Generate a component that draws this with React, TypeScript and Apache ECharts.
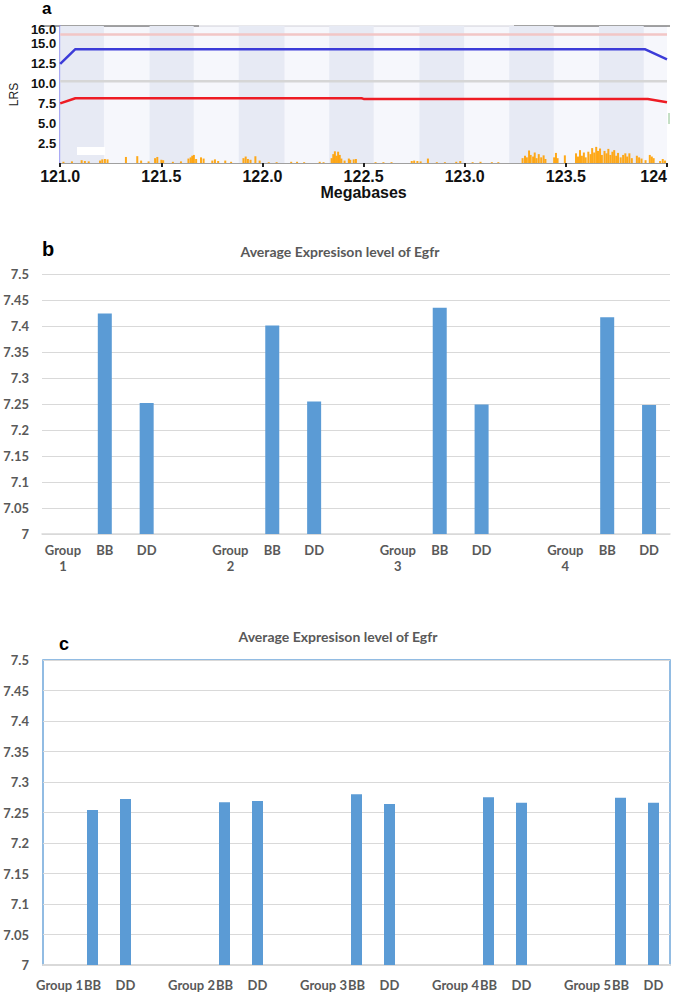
import React, { useEffect, useRef } from 'react';
import * as echarts from 'echarts';

// ---------- Panel a data ----------
const blueLine: [number, number][] = [[121.0, 12.3], [121.075, 14.12], [123.89, 14.12], [124.0, 12.87]];
const redLine: [number, number][] = [[121.0, 7.4], [121.075, 8.03], [122.49, 8.03], [122.5, 7.95], [123.905, 7.95], [124.0, 7.55]];
const pinkThreshold = 15.95;
const grayThreshold = 10.15;
const lrsTicks = [2.5, 5, 7.5, 10, 12.5, 15];
const lrsTopTick = [16];
const bandRanges: [number, number][] = [
  [121.0, 121.216], [121.442, 121.66], [121.883, 122.109], [122.33, 122.55],
  [122.776, 122.997], [123.22, 123.44], [123.664, 123.885],
];
const spikeX = [
  121.016, 121.058, 121.106, 121.122, 121.141, 121.197, 121.208, 121.221, 121.234, 121.325,
  121.381, 121.4, 121.437, 121.469, 121.48, 121.5, 121.509, 121.557, 121.597, 121.634,
  121.645, 121.653, 121.661, 121.672, 121.696, 121.709, 121.752, 121.765, 121.781, 121.816,
  121.845, 121.906, 121.917, 121.928, 121.941, 121.965, 121.986,
  122.031, 122.07, 122.142, 122.171, 122.206, 122.283, 122.302, 122.342, 122.35, 122.358,
  122.366, 122.374, 122.382, 122.39, 122.406, 122.427, 122.434, 122.451, 122.462, 122.559,
  122.598, 122.638, 122.738, 122.75, 122.766, 122.782, 122.818, 122.862, 122.902, 122.958, 122.978,
  123.039, 123.078, 123.134, 123.166, 123.286, 123.298, 123.307, 123.318, 123.326, 123.338,
  123.346, 123.355, 123.366, 123.378, 123.39, 123.399, 123.442, 123.451, 123.459, 123.495,
  123.55, 123.56, 123.57, 123.579, 123.589, 123.598, 123.611, 123.622, 123.63, 123.64,
  123.65, 123.659, 123.669, 123.678, 123.691, 123.701, 123.71, 123.72, 123.73, 123.739,
  123.749, 123.758, 123.771, 123.783, 123.794, 123.803, 123.814, 123.826, 123.851, 123.862,
  123.874, 123.894, 123.915, 123.925, 123.934, 123.966, 123.979, 123.99,
];
const spikeH = [
  0.15, 0.2, 0.35, 0.25, 0.2, 0.3, 0.45, 0.5, 0.45, 0.75,
  0.85, 0.3, 0.2, 0.6, 0.75, 0.4, 0.35, 0.15, 0.2, 0.55,
  0.7, 0.9, 1.0, 0.5, 0.7, 0.55, 0.3, 0.45, 0.25, 0.3,
  0.15, 0.6, 0.8, 0.5, 0.4, 0.85, 0.3,
  0.1, 0.1, 0.15, 0.15, 0.1, 0.15, 0.1, 0.6, 1.1, 1.45,
  0.9, 1.4, 1.0, 0.55, 0.3, 0.55, 0.4, 0.45, 0.5, 0.1,
  0.1, 0.1, 0.25, 0.3, 0.25, 0.2, 0.55, 0.1, 0.1, 0.15, 0.25,
  0.1, 0.15, 0.1, 0.1, 0.6, 0.9, 0.7, 1.55, 1.0, 0.8,
  1.3, 0.6, 1.1, 0.7, 0.95, 0.5, 0.7, 1.25, 0.6, 0.95,
  1.2, 0.8, 1.6, 0.9, 1.3, 0.7, 1.4, 1.1, 1.85, 1.3,
  2.0, 1.5, 1.8, 1.0, 1.5, 1.2, 1.75, 1.0, 1.4, 1.6,
  0.9, 1.25, 0.7, 1.0, 1.2, 0.8, 1.2, 0.6, 0.9, 0.7,
  0.55, 0.35, 1.0, 0.8, 0.6, 0.25, 0.5, 0.3,
];

// ---------- Panel b data ----------
const groupsB = ['Group\n1', 'Group\n2', 'Group\n3', 'Group\n4'];
const bbValuesB = [7.424, 7.401, 7.435, 7.417];
const ddValuesB = [7.252, 7.255, 7.249, 7.248];

// ---------- Panel c data ----------
const groupsC = ['Group 1', 'Group 2', 'Group 3', 'Group 4', 'Group 5'];
const bbValuesC = [7.254, 7.267, 7.280, 7.275, 7.274];
const ddValuesC = [7.272, 7.269, 7.264, 7.266, 7.266];

const exprTitle = 'Average Expresison level of Egfr';

function buildCats(groups: string[], bb: number[], dd: number[]) {
  const cats: string[] = [];
  const vals: (number | null)[] = [];
  groups.forEach((g, i) => {
    if (i > 0) { cats.push(''); vals.push(null); }
    cats.push(g); vals.push(null);
    cats.push('BB'); vals.push(bb[i]);
    cats.push('DD'); vals.push(dd[i]);
  });
  return { cats, vals };
}

const B = buildCats(groupsB, bbValuesB, ddValuesB);
const C = buildCats(groupsC, bbValuesC, ddValuesC);

const ARIAL = '"Liberation Sans", Arial, sans-serif';
const CAL = 'Lato, "Open Sans", sans-serif';
const GRAYTXT = '#595959';
const BAR = '#5b9bd5';

const lrsLabel = {
  hideOverlap: false, color: '#111', fontFamily: ARIAL, fontWeight: 'bold', fontSize: 13, margin: 4,
  formatter: (v: number) => v.toFixed(1),
};

export default function App() {
  const ref = useRef<HTMLDivElement>(null);
  useEffect(() => {
    const chart = echarts.init(ref.current!, null, { renderer: 'svg' });
    const option: any = {
      animation: false,
      backgroundColor: '#ffffff',
      grid: [
        { left: 41, top: 26, width: 626, height: 137, show: true, backgroundColor: '#f6f7fc', borderWidth: 0 },
        { left: 42, top: 274, width: 628, height: 260 },
        { left: 43, top: 660, width: 627, height: 305, show: true, backgroundColor: 'transparent', borderColor: '#6fa6da', borderWidth: 1.5 },
      ],
      xAxis: [
        {
          type: 'value', gridIndex: 0, min: 121, max: 124, interval: 0.5,
          axisLine: { show: true, lineStyle: { color: '#a0a0a0', width: 1 } },
          axisTick: { show: true, length: 4, lineStyle: { color: '#222', width: 2 } },
          splitLine: { show: false },
          axisLabel: {
            color: '#111', fontFamily: ARIAL, fontWeight: 'bold', fontSize: 16, margin: 5,
            alignMaxLabel: 'right',
            formatter: (v: number) => (Math.abs(v - 124) < 1e-9 ? '124' : v.toFixed(1)),
          },
          name: 'Megabases', nameLocation: 'middle', nameGap: 20,
          nameTextStyle: { color: '#111', fontFamily: ARIAL, fontWeight: 'bold', fontSize: 16 },
        },
        {
          type: 'category', gridIndex: 1, data: B.cats,
          axisLine: { show: true, lineStyle: { color: '#d9d9d9', width: 1.5 } },
          axisTick: { show: false },
          axisLabel: { interval: 0, color: GRAYTXT, fontFamily: CAL, fontWeight: 'bold', fontSize: 13, lineHeight: 16, margin: 8 },
        },
        {
          type: 'category', gridIndex: 2, data: C.cats,
          axisLine: { show: true, lineStyle: { color: '#d9d9d9', width: 2 } },
          axisTick: { show: false },
          axisLabel: { interval: 0, color: GRAYTXT, fontFamily: CAL, fontWeight: 'bold', fontSize: 13, margin: 13 },
        },
      ],
      yAxis: [
        {
          type: 'value', gridIndex: 0, min: 0, max: 17,
          axisLine: { show: true, lineStyle: { color: '#8c8cf0', width: 1.5 } },
          axisTick: { show: false },
          splitLine: { show: false },
          axisLabel: { ...lrsLabel, customValues: lrsTicks, verticalAlign: 'top', lineHeight: 10, padding: [-4, 0, 0, 0] },
          name: 'LRS', nameLocation: 'middle', nameGap: 30, nameRotate: 90,
          nameTextStyle: { color: '#222', fontFamily: ARIAL, fontSize: 12 },
        },
        {
          type: 'value', gridIndex: 1, min: 7, max: 7.5, interval: 0.05,
          axisLine: { show: false }, axisTick: { show: false },
          splitLine: { lineStyle: { color: '#d9d9d9', width: 1 } },
          axisLabel: { color: GRAYTXT, fontFamily: CAL, fontWeight: 'bold', fontSize: 13, margin: 13 },
        },
        {
          type: 'value', gridIndex: 2, min: 7, max: 7.5, interval: 0.05,
          axisLine: { show: false }, axisTick: { show: false },
          splitLine: { lineStyle: { color: '#d9d9d9', width: 1.2 } },
          axisLabel: { color: GRAYTXT, fontFamily: CAL, fontWeight: 'bold', fontSize: 13, margin: 14 },
        },
        {
          type: 'value', gridIndex: 0, min: 0, max: 17, position: 'left',
          axisLine: { show: false }, axisTick: { show: false }, splitLine: { show: false },
          axisLabel: { ...lrsLabel, customValues: lrsTopTick, verticalAlign: 'bottom', lineHeight: 10 },
        },
      ],
      series: [
        {
          type: 'line', xAxisIndex: 0, yAxisIndex: 0, symbol: 'none', silent: true,
          data: [[121, pinkThreshold], [124, pinkThreshold]],
          lineStyle: { color: '#f2c6c6', width: 2.5 },
          markArea: {
            silent: true,
            itemStyle: { color: '#e7eaf4' },
            data: bandRanges.map(([a, b]) => [{ xAxis: a }, { xAxis: b }]),
          },
          z: 2,
        },
        {
          type: 'line', xAxisIndex: 0, yAxisIndex: 0, symbol: 'none', silent: true,
          data: [[121, grayThreshold], [124, grayThreshold]],
          lineStyle: { color: '#d6d6d6', width: 2.5 }, z: 2,
        },
        {
          type: 'bar', xAxisIndex: 0, yAxisIndex: 0, silent: true, barWidth: 2,
          data: spikeX.map((x, i) => [x, spikeH[i]]),
          itemStyle: { color: '#ffa000', opacity: 0.9 }, z: 3,
        },
        {
          type: 'line', xAxisIndex: 0, yAxisIndex: 0, symbol: 'none', silent: true,
          data: blueLine, lineStyle: { color: '#3c3cd8', width: 2.5 }, z: 4,
        },
        {
          type: 'line', xAxisIndex: 0, yAxisIndex: 0, symbol: 'none', silent: true,
          data: redLine, lineStyle: { color: '#ee1c24', width: 2.5 }, z: 4,
        },
        {
          type: 'bar', xAxisIndex: 1, yAxisIndex: 1, data: B.vals, barWidth: 14,
          itemStyle: { color: BAR }, silent: true,
        },
        {
          type: 'bar', xAxisIndex: 2, yAxisIndex: 2, data: C.vals, barWidth: 11,
          itemStyle: { color: BAR }, silent: true,
        },
      ],
      graphic: [
        { type: 'text', x: 42, y: 0, style: { text: 'a', font: 'bold 17px "Liberation Sans", Arial', fill: '#000' } },
        { type: 'line', shape: { x1: 41, y1: 26, x2: 199, y2: 26 }, style: { stroke: '#444', lineWidth: 1 } },
        { type: 'line', shape: { x1: 199, y1: 26, x2: 514, y2: 26 }, style: { stroke: '#d0d0d8', lineWidth: 1 } },
        { type: 'line', shape: { x1: 514, y1: 26, x2: 670, y2: 26 }, style: { stroke: '#444', lineWidth: 1 } },
        { type: 'rect', shape: { x: 77, y: 147, width: 28, height: 8 }, style: { fill: '#ffffff' }, z: 10 },
        { type: 'line', shape: { x1: 669, y1: 113, x2: 669, y2: 124 }, style: { stroke: '#8cc08c', lineWidth: 1 }, z: 10 },
        { type: 'text', x: 42, y: 239, style: { text: 'b', font: 'bold 20px "Liberation Sans", Arial', fill: '#000' } },
        { type: 'text', x: 340, y: 251, style: { text: exprTitle, font: `bold 14px ${CAL}`, fill: GRAYTXT, align: 'center', verticalAlign: 'middle' } },
        { type: 'text', x: 59, y: 635, style: { text: 'c', font: 'bold 18px "Liberation Sans", Arial', fill: '#000' } },
        { type: 'text', x: 338, y: 636, style: { text: exprTitle, font: `bold 14px ${CAL}`, fill: GRAYTXT, align: 'center', verticalAlign: 'middle' } },
      ],
    };
    chart.setOption(option);
    return () => chart.dispose();
  }, []);
  return <div ref={ref} style={{ position: 'absolute', left: 0, top: 0, width: 674, height: 992 }} />;
}
